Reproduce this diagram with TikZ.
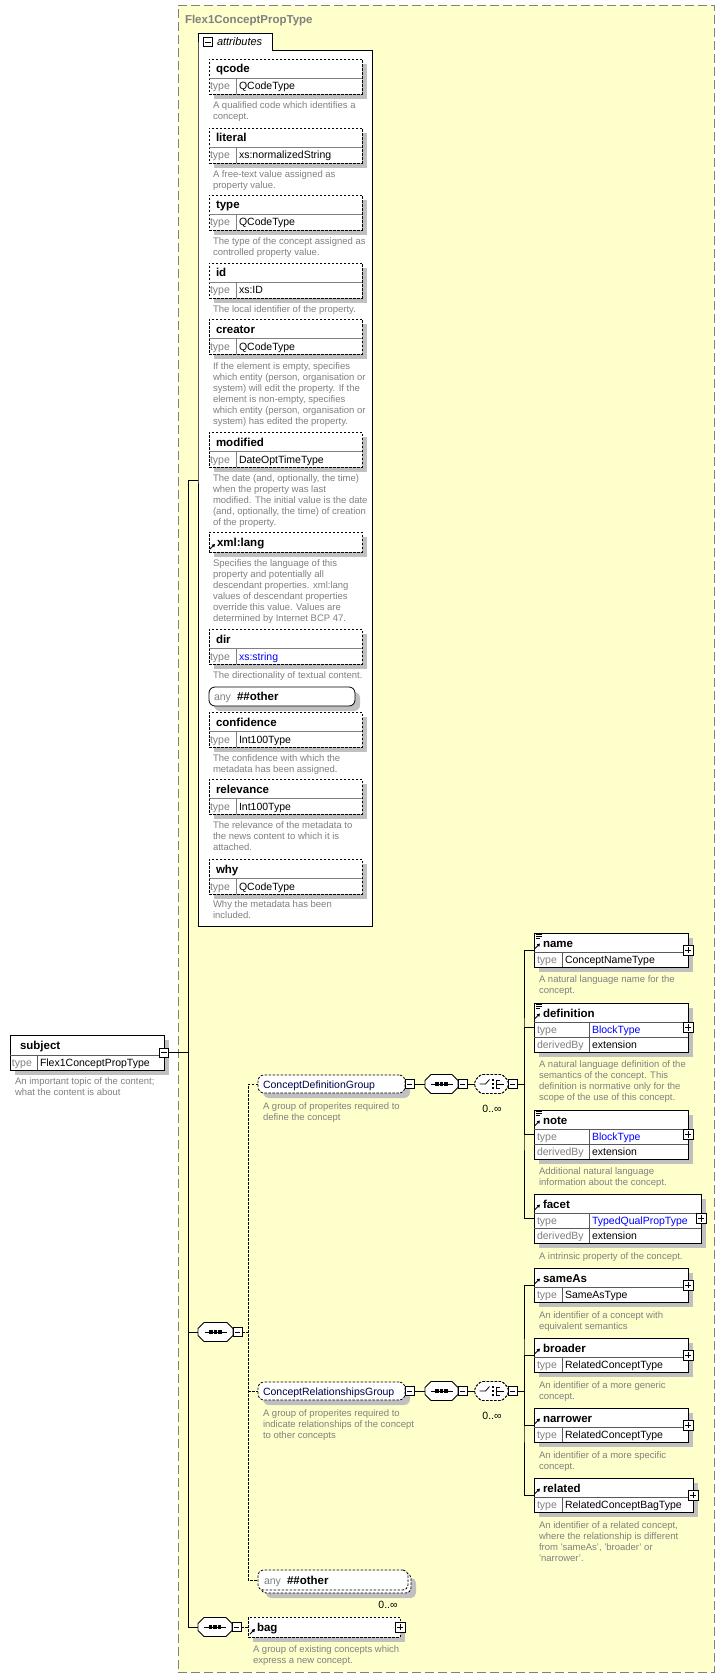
\documentclass[tikz,border=0pt]{standalone}
\usepackage{fontspec}
\setmainfont{Liberation Sans}
\usetikzlibrary{shadows,arrows.meta}

\definecolor{panel}{RGB}{255,255,204}
\definecolor{shade}{RGB}{192,192,192}
\definecolor{note}{RGB}{128,128,128}
\definecolor{link}{RGB}{0,0,255}
\definecolor{grp}{RGB}{0,0,72}

% attribute entry: id, top, name, type
\newcommand{\attrentry}[4]{%
  \node[attbox] (#1) at (209,#2) {};
  \draw[note] (209,#2+19) -- (362,#2+19) (236,#2+19) -- (236,#2+35);
  \node[nametxt] (#1-n) at (216,#2+14) {#3};
  \node[lbltxt] (#1-l) at (210,#2+31) {type};
  \node[valtxt] (#1-v) at (239,#2+31) {#4};
}
% element: id, top, width, column, name, type
\newcommand{\elementbox}[6]{%
  \node[elbox, minimum width=#3, minimum height=34] (#1) at (534,#2) {};
  \draw[sepline] (534,#2+19) -- ++(#3,0) (#4,#2+19) -- (#4,#2+34);
  \node[nametxt] (#1-n) at (543,#2+14) {#5};
  \node[lbltxt] (#1-l) at (537,#2+30.5) {type};
  \node[valtxt] (#1-v) at (#4+3,#2+30.5) {#6};
  \node[plusbox] (#1-p) at (#1.east) {};
  \pic at (535,#2+15.5) {refarrow};
}
% element derived by extension: id, top, width, name, type
\newcommand{\elementext}[5]{%
  \node[elbox, minimum width=#3, minimum height=49] (#1) at (534,#2) {};
  \draw[sepline] (534,#2+19) -- ++(#3,0) (534,#2+34) -- ++(#3,0) (589,#2+19) -- (589,#2+49);
  \node[nametxt] (#1-n) at (543,#2+14) {#4};
  \node[lbltxt] (#1-l) at (537,#2+30.5) {type};
  \node[valtxt, text=link] (#1-v) at (592,#2+30.5) {#5};
  \node[lbltxt] (#1-b) at (537,#2+45.5) {derivedBy};
  \node[valtxt] (#1-x) at (592,#2+45.5) {extension};
  \node[plusbox] (#1-p) at (#1.east) {};
  \pic at (535,#2+15.5) {refarrow};
}
\newcommand{\remark}[4]{\node[desctxt] (#1) at (#2,#3-4) {#4};}
% octagon round a node: options, node
\newcommand{\octo}[2]{%
  \path[#1] ([xshift=6pt]#2.north west) -- ([xshift=-6pt]#2.north east) -- ([yshift=-6pt]#2.north east)
    -- ([yshift=6pt]#2.south east) -- ([xshift=-6pt]#2.south east) -- ([xshift=6pt]#2.south west)
    -- ([yshift=6pt]#2.south west) -- ([yshift=-6pt]#2.north west) -- cycle;}

\begin{document}
\begin{tikzpicture}[x=1pt,y=-1pt,line width=0.8pt,
    every node/.style={inner sep=0pt, outer sep=0pt},
    shadowed/.style={drop shadow={shadow xshift=5pt, shadow yshift=-5pt, fill=shade, opacity=1}},
    attbox/.style={draw, dash pattern=on 2.5pt off 1.5pt, fill=white, anchor=north west,
      minimum width=153, minimum height=35, shadowed},
    elbox/.style={draw, fill=white, anchor=north west, shadowed},
    sepline/.style={draw=black!65},
    nametxt/.style={anchor=base west, font=\fontsize{11.5}{13}\selectfont\bfseries},
    valtxt/.style={anchor=base west, font=\fontsize{10.5}{12}\selectfont},
    lbltxt/.style={valtxt, text=note},
    desctxt/.style={anchor=north west, align=left, text=note, font=\fontsize{9.5}{11}\selectfont},
    minusbox/.style={draw, fill=white, line width=0.7pt, minimum size=9pt,
      path picture={\draw[line width=0.7pt] ([xshift=1.8pt]path picture bounding box.west) -- ([xshift=-1.8pt]path picture bounding box.east);}},
    plusbox/.style={draw, fill=white, line width=0.7pt, minimum size=10pt,
      path picture={\draw[line width=0.7pt] ([xshift=1.8pt]path picture bounding box.west) -- ([xshift=-1.8pt]path picture bounding box.east)
        ([yshift=-1.8pt]path picture bounding box.north) -- ([yshift=1.8pt]path picture bounding box.south);}},
    modelbox/.style={minimum width=33, minimum height=19},
    octfill/.style={draw, fill=white},
    octshade/.style={fill=shade, shift={(5,5)}},
    octdash/.style={draw, fill=white, dash pattern=on 2.5pt off 1.5pt, rounded corners=1.5pt},
    grpbox/.style={draw, dash pattern=on 2.5pt off 1.5pt, fill=white, rounded corners=6pt,
      anchor=west, minimum height=18, shadowed},
    optbox/.style={draw, dash pattern=on 2.5pt off 1.5pt, fill=white, rounded corners=5pt,
      anchor=west, minimum height=20},
    conn/.style={draw, line width=1pt},
    dconn/.style={draw, line width=0.9pt, dash pattern=on 2.5pt off 1.5pt},
    seqicon/.pic={\draw[line width=0.9pt] (-11,0) -- (11,0);
      \foreach \i in {-4.5,0,4.5} {\fill (\i-1.6,-1.6) rectangle (\i+1.6,1.6);}},
    choiceicon/.pic={\draw[line width=0.8pt] (-12,0) -- (-6,0) -- (-2,-4.5);
      \foreach \i in {-4,0,4} {\fill (0,\i-1.3) rectangle (2.6,\i+1.3);}
      \draw[line width=0.8pt] (5,-4.5) -- (5,4.5) (5,-4) -- (8,-4) (5,4) -- (8,4) (5,0) -- (12,0);},
    refarrow/.pic={\draw[line width=1pt,-{Triangle[length=3pt,width=3.4pt]}] (0,0) -- (5,-5);},
    listicon/.pic={\draw[line width=0.8pt] (0,0) -- (6,0) (0,2.2) -- (6,2.2) (0,4.4) -- (4,4.4);}
  ]
  \useasboundingbox (0,0) rectangle (725,1677);

  % complex type panel
  \node[draw=note, fill=panel, dash pattern=on 9pt off 4pt, anchor=north west,
    minimum width=536, minimum height=1667] (flex) at (178,5) {};
  \node[anchor=base west, text=note, font=\fontsize{11.5}{13}\selectfont\bfseries] (flex-t) at (185,24) {Flex1ConceptPropType};

  % attributes
  \node[anchor=north west, minimum width=174, minimum height=876] (attrs) at (198,50) {};
  \draw[fill=white] (attrs.north west) -- ++(0,-17) -- ++(74,0) -- ++(0,17) -- (attrs.north east)
    -- (attrs.south east) -- (attrs.south west) -- cycle;
  \node[minusbox] (attrs-m) at (208,42) {};
  \node[anchor=base west, font=\fontsize{11}{13}\selectfont\itshape] (attrs-t) at (217,46) {attributes};

  \attrentry{a-qcode}{59}{qcode}{QCodeType}
  \remark{a-qcode-d}{213}{106}{A qualified code which identifies a\\concept.}
  \attrentry{a-literal}{128}{literal}{xs:normalizedString}
  \remark{a-literal-d}{213}{175}{A free-text value assigned as\\property value.}
  \attrentry{a-type}{195}{type}{QCodeType}
  \remark{a-type-d}{213}{242}{The type of the concept assigned as\\controlled property value.}
  \attrentry{a-id}{263}{id}{xs:ID}
  \remark{a-id-d}{213}{310}{The local identifier of the property.}
  \attrentry{a-creator}{319}{creator}{QCodeType}
  \remark{a-creator-d}{213}{367}{If the element is empty, specifies\\which entity (person, organisation or\\system) will edit the property. If the\\element is non-empty, specifies\\which entity (person, organisation or\\system) has edited the property.}
  \attrentry{a-modified}{432}{modified}{DateOptTimeType}
  \remark{a-modified-d}{213}{479}{The date (and, optionally, the time)\\when the property was last\\modified. The initial value is the date\\(and, optionally, the time) of creation\\of the property.}
  \node[attbox, minimum height=20] (a-lang) at (209,532) {};
  \pic at (210,549) {refarrow};
  \node[nametxt] (a-lang-n) at (217,546) {xml:lang};
  \remark{a-lang-d}{213}{564}{Specifies the language of this\\property and potentially all\\descendant properties. xml:lang\\values of descendant properties\\override this value. Values are\\determined by Internet BCP 47.}
  \attrentry{a-dir}{629}{dir}{\textcolor{link}{xs:string}}
  \remark{a-dir-d}{213}{676}{The directionality of textual content.}
  \node[draw, fill=white, rounded corners=6pt, anchor=north west, minimum width=146, minimum height=19, shadowed] (a-any) at (209,687) {};
  \node[lbltxt] (a-any-a) at (214,700.5) {any};
  \node[nametxt] (a-any-n) at (237,700.5) {\#\#other};
  \attrentry{a-confidence}{712}{confidence}{Int100Type}
  \remark{a-confidence-d}{213}{759}{The confidence with which the\\metadata has been assigned.}
  \attrentry{a-relevance}{779}{relevance}{Int100Type}
  \remark{a-relevance-d}{213}{826}{The relevance of the metadata to\\the news content to which it is\\attached.}
  \attrentry{a-why}{859}{why}{QCodeType}
  \remark{a-why-d}{213}{905}{Why the metadata has been\\included.}

  % the element itself
  \node[elbox, minimum width=154, minimum height=35] (subject) at (10,1035) {};
  \draw[sepline] (10,1055) -- (164,1055) (37,1055) -- (37,1070);
  \node[nametxt] (subject-n) at (20,1049) {subject};
  \node[lbltxt] (subject-l) at (12,1066.5) {type};
  \node[valtxt] (subject-v) at (40,1066.5) {Flex1ConceptPropType};
  \node[minusbox] (subject-m) at (subject.east) {};
  \remark{subject-d}{15}{1082}{An important topic of the content;\\what the content is about}

  % sequences on the spine
  \node[modelbox, minimum width=35] (midseq) at (215.5,1332) {};
  \octo{octshade}{midseq} \octo{octfill}{midseq}
  \pic at (midseq) {seqicon};
  \node[minusbox, anchor=west] (midseq-m) at (midseq.east) {};
  \node[modelbox, minimum width=34] (bagseq) at (215,1627) {};
  \octo{octshade}{bagseq} \octo{octfill}{bagseq}
  \pic at (bagseq) {seqicon};
  \node[minusbox, anchor=west] (bagseq-m) at (bagseq.east) {};

  % concept definition group
  \node[grpbox, minimum width=147] (cdg) at (258,1084) {};
  \node[valtxt, text=grp] (cdg-t) at (263,1088) {ConceptDefinitionGroup};
  \node[minusbox, anchor=west] (cdg-m) at (cdg.east) {};
  \remark{cdg-d}{263}{1107}{A group of properites required to\\define the concept}
  \node[modelbox] (seq1) at (441.5,1084) {};
  \octo{octshade}{seq1} \octo{octfill}{seq1}
  \pic at (seq1) {seqicon};
  \node[minusbox, anchor=west] (seq1-m) at (seq1.east) {};
  \node[modelbox] (ch1) at (491.5,1084) {};
  \octo{octshade, shift={(3,3)}}{ch1} \octo{octdash, shift={(3,3)}}{ch1} \octo{octdash}{ch1}
  \pic at (ch1) {choiceicon};
  \node[minusbox, anchor=west] (ch1-m) at (ch1.east) {};
  \node[valtxt, anchor=base] (ch1-o) at (492,1112) {0..∞};

  \elementbox{e-name}{933}{154}{562}{name}{ConceptNameType}
  \pic at (536,934) {listicon};
  \remark{e-name-d}{539}{980}{A natural language name for the\\concept.}
  \elementext{e-def}{1003}{154}{definition}{BlockType}
  \pic at (536,1004) {listicon};
  \remark{e-def-d}{539}{1065}{A natural language definition of the\\semantics of the concept. This\\definition is normative only for the\\scope of the use of this concept.}
  \elementext{e-note}{1110}{154}{note}{BlockType}
  \pic at (536,1111) {listicon};
  \remark{e-note-d}{539}{1172}{Additional natural language\\information about the concept.}
  \elementext{e-facet}{1194}{167}{facet}{TypedQualPropType}
  \remark{e-facet-d}{539}{1257}{A intrinsic property of the concept.}

  % concept relationships group
  \node[grpbox, minimum width=147] (crg) at (258,1391) {};
  \node[valtxt, text=grp] (crg-t) at (263,1395) {ConceptRelationshipsGroup};
  \node[minusbox, anchor=west] (crg-m) at (crg.east) {};
  \remark{crg-d}{263}{1414}{A group of properites required to\\indicate relationships of the concept\\to other concepts}
  \node[modelbox] (seq2) at (441.5,1391) {};
  \octo{octshade}{seq2} \octo{octfill}{seq2}
  \pic at (seq2) {seqicon};
  \node[minusbox, anchor=west] (seq2-m) at (seq2.east) {};
  \node[modelbox] (ch2) at (491.5,1391) {};
  \octo{octshade, shift={(3,3)}}{ch2} \octo{octdash, shift={(3,3)}}{ch2} \octo{octdash}{ch2}
  \pic at (ch2) {choiceicon};
  \node[minusbox, anchor=west] (ch2-m) at (ch2.east) {};
  \node[valtxt, anchor=base] (ch2-o) at (492,1419) {0..∞};

  \elementbox{e-sameas}{1268}{154}{562}{sameAs}{SameAsType}
  \remark{e-sameas-d}{539}{1316}{An identifier of a concept with\\equivalent semantics}
  \elementbox{e-broader}{1338}{154}{562}{broader}{RelatedConceptType}
  \remark{e-broader-d}{539}{1386}{An identifier of a more generic\\concept.}
  \elementbox{e-narrower}{1408}{154}{562}{narrower}{RelatedConceptType}
  \remark{e-narrower-d}{539}{1456}{An identifier of a more specific\\concept.}
  \elementbox{e-related}{1478}{159}{562}{related}{RelatedConceptBagType}
  \remark{e-related-d}{539}{1526}{An identifier of a related concept,\\where the relationship is different\\from 'sameAs', 'broader' or\\'narrower'.}

  % any other
  \node[optbox, shadowed, minimum width=150] (anyo-s) at (261,1583) {};
  \node[optbox, minimum width=150] (anyo) at (258,1580) {};
  \node[lbltxt] (anyo-a) at (264,1584) {any};
  \node[nametxt] (anyo-n) at (287,1584) {\#\#other};
  \node[valtxt, anchor=base] (anyo-o) at (388,1608) {0..∞};

  % bag
  \node[optbox, sharp corners, shadowed, minimum width=152] (bag) at (248,1627) {};
  \pic at (250,1634) {refarrow};
  \node[nametxt] (bag-n) at (257,1631) {bag};
  \node[plusbox] (bag-p) at (bag.east) {};
  \remark{bag-d}{253}{1650}{A group of existing concepts which\\express a new concept.}

  % connectors
  \coordinate (spine-a) at (188,480);
  \coordinate (spine-b) at (188,1627);
  \coordinate (attrs-in) at (198,480);
  \coordinate (rail-a) at (248,1084);
  \coordinate (rail-b) at (248,1580);
  \coordinate (bus1) at (524,1084);
  \coordinate (bus2) at (524,1391);
  \draw[conn] (attrs-in) -- (spine-a) -- (spine-b) -- (bagseq.west);
  \draw[conn] (subject-m.east) -- (subject-m.east -| spine-a);
  \draw[conn] (midseq.west -| spine-a) -- (midseq.west);
  \draw[dconn] (midseq-m.east) -- (midseq-m.east -| rail-a);
  \draw[dconn] (cdg.west) -- (rail-a) -- (rail-b) -- (anyo.west);
  \draw[dconn] (crg.west -| rail-a) -- (crg.west);
  \draw[dconn] (bagseq-m.east) -- (bag.west);
  \draw[conn] (cdg-m.east) -- (seq1.west);
  \draw[conn] (seq1-m.east) -- (ch1.west);
  \draw[conn] (ch1-m.east) -- (bus1);
  \draw[conn] (e-name.west) -| (bus1) |- (e-facet.west);
  \draw[conn] (bus1) |- (e-def.west);
  \draw[conn] (bus1) |- (e-note.west);
  \draw[conn] (crg-m.east) -- (seq2.west);
  \draw[conn] (seq2-m.east) -- (ch2.west);
  \draw[conn] (ch2-m.east) -- (bus2);
  \draw[conn] (e-sameas.west) -| (bus2) |- (e-related.west);
  \draw[conn] (bus2) |- (e-broader.west);
  \draw[conn] (bus2) |- (e-narrower.west);
\end{tikzpicture}
\end{document}
